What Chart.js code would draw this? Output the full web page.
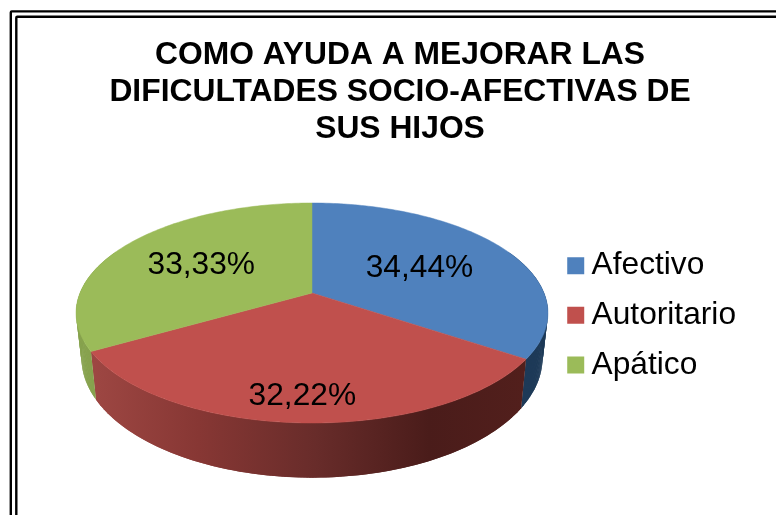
<!DOCTYPE html>
<html>
<head>
<meta charset="utf-8">
<style>html,body{margin:0;padding:0;background:#fff}canvas{display:block}</style>
<script src="https://cdn.jsdelivr.net/npm/chart.js@4"></script>
</head>
<body>
<canvas id="c" width="776" height="515"></canvas>
<script>
const categories = ['Afectivo', 'Autoritario', 'Apático'];
const percentages = [34.44, 32.22, 33.33];
const titleLines = ['COMO AYUDA A MEJORAR LAS', 'DIFICULTADES SOCIO-AFECTIVAS DE', 'SUS HIJOS'];
const topColors = ['#4f81bd', '#c0504d', '#9bbb59'];
const FONT = '"Liberation Sans", Arial, sans-serif';

// Perspective view of the pie disc
const view = {cx: 312, cy: 293, d: 232, a: -0.1818, b: 106.36};
const base = {cx: 312, cy: 336, d: 226.7, a: -0.1818, b: 115.9};
function project(p, ang, r) {
  const u = r * Math.cos(ang), v = r * Math.sin(ang), w = 1 + p.a * v;
  return [p.cx + p.d * u / w, p.cy + p.b * v / w];
}
function sideStyle(ctx, i) {
  if (i === 0) return '#1e3a58';
  if (i === 2) return '#87a24e';
  const g = ctx.createLinearGradient(90, 0, 525, 0);
  g.addColorStop(0, 'rgb(158,71,67)');
  g.addColorStop(0.25, 'rgb(135,55,52)');
  g.addColorStop(0.52, 'rgb(104,44,42)');
  g.addColorStop(0.78, 'rgb(74,28,26)');
  g.addColorStop(1, 'rgb(82,31,28)');
  return g;
}
const labelRadius = [0.56, 0.81, 0.58];
const labelNudge = [[-2, 2], [-2, 2], [0, 2]];
const pie3d = {
  id: 'pie3d',
  beforeDraw(chart) {
    const ctx = chart.ctx;
    ctx.save();
    ctx.fillStyle = '#fff';
    ctx.fillRect(0, 0, chart.width, chart.height);
    ctx.strokeStyle = '#000';
    ctx.lineWidth = 2.4;
    ctx.lineJoin = 'round';
    [[10.8, 11.4], [16.3, 16.8]].forEach(([x, y]) => {
      ctx.beginPath();
      ctx.moveTo(x, chart.height + 5);
      ctx.lineTo(x, y + 1);
      ctx.quadraticCurveTo(x, y, x + 1, y);
      ctx.lineTo(chart.width + 5, y);
      ctx.stroke();
    });
    ctx.restore();
  },
  beforeDatasetDraw(chart) {
    const ctx = chart.ctx, arcs = chart.getDatasetMeta(0).data;
    ctx.save();
    arcs.forEach((arc, i) => {
      const n = 180, s = arc.startAngle, e = arc.endAngle, style = sideStyle(ctx, i);
      ctx.fillStyle = style;
      for (let k = 0; k < n; k++) {
        const a0 = s + (e - s) * k / n;
        const a1 = s + (e - s) * Math.min(k + 2, n) / n;
        if (Math.sin(a0) < -0.4 && Math.sin(a1) < -0.4) continue;
        const q = [project(view, a0, 1), project(view, a1, 1), project(base, a1, 1), project(base, a0, 1)];
        ctx.beginPath();
        q.forEach((pt, j) => j ? ctx.lineTo(pt[0], pt[1]) : ctx.moveTo(pt[0], pt[1]));
        ctx.closePath();
        ctx.fill();
      }
    });
    arcs.forEach((arc, i) => {
      const n = 120, s = arc.startAngle, e = arc.endAngle;
      ctx.beginPath();
      ctx.moveTo(view.cx, view.cy);
      for (let k = 0; k <= n; k++) {
        const pt = project(view, s + (e - s) * k / n, 1);
        ctx.lineTo(pt[0], pt[1]);
      }
      ctx.closePath();
      ctx.fillStyle = topColors[i]; ctx.strokeStyle = topColors[i]; ctx.lineWidth = 0.5;
      ctx.fill(); ctx.stroke();
    });
    ctx.fillStyle = '#000';
    ctx.font = '31.7px ' + FONT;
    ctx.textAlign = 'center';
    ctx.textBaseline = 'middle';
    arcs.forEach((arc, i) => {
      const mid = (arc.startAngle + arc.endAngle) / 2;
      const pt = project(view, mid, labelRadius[i]);
      ctx.fillText(percentages[i].toFixed(2).replace('.', ',') + '%', pt[0] + labelNudge[i][0], pt[1] + labelNudge[i][1]);
    });
    ctx.restore();
    return false;
  }
};

new Chart(document.getElementById('c'), {
  type: 'pie',
  data: {
    labels: categories,
    datasets: [{data: percentages, backgroundColor: topColors, borderWidth: 0}]
  },
  plugins: [pie3d],
  options: {
    responsive: false,
    animation: false,
    layout: {padding: {left: 54, right: 30, top: 22, bottom: 42}},
    plugins: {
      tooltip: {enabled: false},
      title: {
        display: true,
        text: titleLines,
        color: '#000',
        font: {family: FONT, size: 31.8, weight: 'bold', lineHeight: 1.16},
        padding: {top: 15, bottom: 10}
      },
      legend: {
        position: 'right',
        align: 'center',
        fullSize: false,
        labels: {
          usePointStyle: true,
          pointStyle: 'rect',
          boxWidth: 0.01,
          boxHeight: 17,
          padding: 18,
          color: '#000',
          font: {family: FONT, size: 31.7, lineHeight: 1}
        }
      }
    }
  }
});
</script>
</body>
</html>
